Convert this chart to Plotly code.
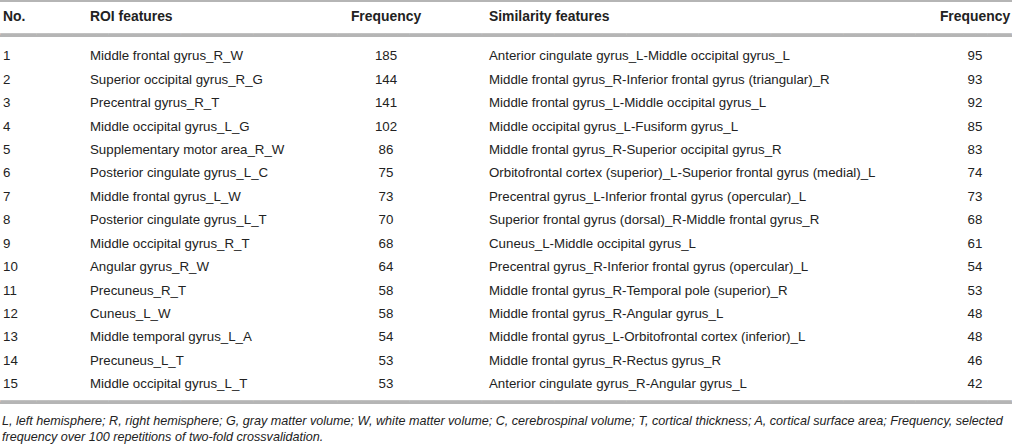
import plotly.graph_objects as go

# table contents
row_no = list(range(1, 16))

roi_features = [
    "Middle frontal gyrus_R_W", "Superior occipital gyrus_R_G", "Precentral gyrus_R_T",
    "Middle occipital gyrus_L_G", "Supplementary motor area_R_W", "Posterior cingulate gyrus_L_C",
    "Middle frontal gyrus_L_W", "Posterior cingulate gyrus_L_T", "Middle occipital gyrus_R_T",
    "Angular gyrus_R_W", "Precuneus_R_T", "Cuneus_L_W", "Middle temporal gyrus_L_A",
    "Precuneus_L_T", "Middle occipital gyrus_L_T",
]
roi_freq = [185, 144, 141, 102, 86, 75, 73, 70, 68, 64, 58, 58, 54, 53, 53]

sim_features = [
    "Anterior cingulate gyrus_L-Middle occipital gyrus_L",
    "Middle frontal gyrus_R-Inferior frontal gyrus (triangular)_R",
    "Middle frontal gyrus_L-Middle occipital gyrus_L",
    "Middle occipital gyrus_L-Fusiform gyrus_L",
    "Middle frontal gyrus_R-Superior occipital gyrus_R",
    "Orbitofrontal cortex (superior)_L-Superior frontal gyrus (medial)_L",
    "Precentral gyrus_L-Inferior frontal gyrus (opercular)_L",
    "Superior frontal gyrus (dorsal)_R-Middle frontal gyrus_R",
    "Cuneus_L-Middle occipital gyrus_L",
    "Precentral gyrus_R-Inferior frontal gyrus (opercular)_L",
    "Middle frontal gyrus_R-Temporal pole (superior)_R",
    "Middle frontal gyrus_R-Angular gyrus_L",
    "Middle frontal gyrus_L-Orbitofrontal cortex (inferior)_L",
    "Middle frontal gyrus_R-Rectus gyrus_R",
    "Anterior cingulate gyrus_R-Angular gyrus_L",
]
sim_freq = [95, 93, 92, 85, 83, 74, 73, 68, 61, 54, 53, 48, 48, 46, 42]

headers = ["No.", "ROI features", "Frequency", "Similarity features", "Frequency"]

footnote = ("L, left hemisphere; R, right hemisphere; G, gray matter volume; W, white matter volume; "
            "C, cerebrospinal volume; T, cortical thickness; A, cortical surface area; Frequency, selected"
            "<br>frequency over 100 repetitions of two-fold crossvalidation.")

FONT = "Liberation Sans, Arial, sans-serif"
TXT = "#222222"
RULE = "#b5b5b5"

# column anchors (x in pixels) and alignment
col_x = [3, 90, 386, 489, 975]
col_pos = ["middle right", "middle right", "middle center", "middle right", "middle center"]
columns = [[str(n) for n in row_no], roi_features, [str(v) for v in roi_freq],
           sim_features, [str(v) for v in sim_freq]]

# vertical range in row units (reversed: row 1 at top)
Y_TOP, Y_BOTTOM = -1.433, 17.517
# y of the rules and the header, in row units
rule_y = [-1.39, 0.104, 15.77]
header_y = -0.7

fig = go.Figure()

for x, pos, vals in zip(col_x, col_pos, columns):
    fig.add_trace(go.Scatter(
        x=[x] * len(vals), y=row_no, mode="text", text=vals,
        textposition=pos, cliponaxis=False, hoverinfo="skip",
        textfont=dict(family=FONT, size=13.3, color=TXT),
    ))

fig.add_trace(go.Scatter(
    x=col_x, y=[header_y] * 5, mode="text",
    text=["<b>%s</b>" % h for h in headers],
    textposition=col_pos, cliponaxis=False, hoverinfo="skip",
    textfont=dict(family=FONT, size=13.9, color=TXT),
))

# horizontal rules (top, under header, bottom)
for y in rule_y:
    fig.add_shape(type="line", xref="paper", x0=0, x1=1, y0=y, y1=y,
                  line=dict(color=RULE, width=2))

# the shapes did not show up in the screenshots, so draw the rules again
# as a run of box-drawing characters
fig.add_trace(go.Scatter(
    x=[506] * len(rule_y), y=rule_y, mode="text",
    text=["\u2500" * 84] * len(rule_y), textposition="middle center",
    cliponaxis=False, hoverinfo="skip",
    textfont=dict(family="DejaVu Sans", size=20, color=RULE),
))

fig.add_annotation(
    text="<i>%s</i>" % footnote, xref="paper", x=0, xanchor="left",
    y=16.86, yanchor="middle", showarrow=False, align="left",
    font=dict(family=FONT, size=12.6, color=TXT),
)

fig.update_layout(
    width=1012, height=444,
    margin=dict(l=0, r=0, t=0, b=0),
    paper_bgcolor="white", plot_bgcolor="white",
    showlegend=False,
    xaxis=dict(range=[0, 1012], visible=False, fixedrange=True),
    yaxis=dict(range=[Y_BOTTOM, Y_TOP], visible=False, fixedrange=True),
)

# drop the page's default body margin so the figure fills the window
fig.write_html("out.html", config={"displayModeBar": False},
               post_script="document.body.style.margin='0px';")
